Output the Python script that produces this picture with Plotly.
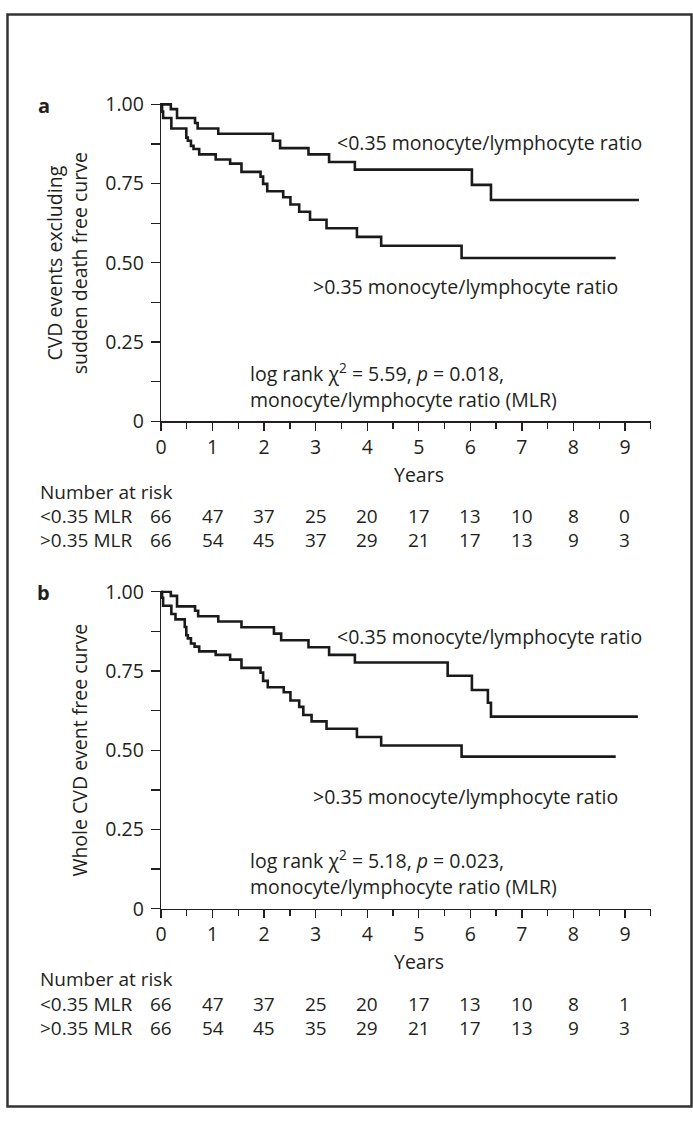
import plotly.graph_objects as go

# ---------------- data ----------------
years = [0, 1, 2, 3, 4, 5, 6, 7, 8, 9]

# panel a: CVD events excluding sudden death
a_low_times = [0.19, 0.31, 0.66, 0.71, 1.11, 2.17, 2.31, 2.86, 3.26, 3.76, 6.03, 6.40]
a_low_surv = [0.985, 0.957, 0.941, 0.924, 0.907, 0.885, 0.862, 0.842, 0.818, 0.794, 0.746, 0.698]
a_low_end = 9.27
a_high_times = [0.02, 0.04, 0.20, 0.49, 0.52, 0.58, 0.63, 0.74, 1.06, 1.34, 1.56, 1.93, 1.98,
                2.06, 2.37, 2.51, 2.68, 2.89, 3.21, 3.80, 4.27, 5.83]
a_high_surv = [0.977, 0.957, 0.924, 0.895, 0.885, 0.869, 0.859, 0.842, 0.826, 0.813, 0.787, 0.772,
               0.749, 0.726, 0.707, 0.684, 0.661, 0.636, 0.609, 0.582, 0.554, 0.515]
a_high_end = 8.82
a_risk_low = [66, 47, 37, 25, 20, 17, 13, 10, 8, 0]
a_risk_high = [66, 54, 45, 37, 29, 21, 17, 13, 9, 3]

# panel b: whole CVD events
b_low_times = [0.19, 0.31, 0.66, 0.72, 1.11, 1.56, 2.19, 2.33, 2.86, 3.26, 3.76, 5.56, 6.03, 6.34, 6.40]
b_low_surv = [0.987, 0.954, 0.940, 0.923, 0.906, 0.888, 0.868, 0.847, 0.825, 0.801, 0.777, 0.735,
              0.690, 0.650, 0.606]
b_low_end = 9.25
b_high_times = [0.02, 0.04, 0.20, 0.28, 0.46, 0.49, 0.52, 0.58, 0.65, 0.74, 1.06, 1.34, 1.56, 1.93,
                1.98, 2.07, 2.38, 2.51, 2.68, 2.76, 2.92, 3.21, 3.80, 4.27, 5.83]
b_high_surv = [0.981, 0.956, 0.930, 0.913, 0.889, 0.863, 0.853, 0.837, 0.827, 0.812, 0.801, 0.786,
               0.760, 0.745, 0.719, 0.699, 0.683, 0.657, 0.637, 0.611, 0.591, 0.568, 0.542, 0.515, 0.48]
b_high_end = 8.82
b_risk_low = [66, 47, 37, 25, 20, 17, 13, 10, 8, 1]
b_risk_high = [66, 54, 45, 35, 29, 21, 17, 13, 9, 3]

y_tickvals = [0, 0.25, 0.5, 0.75, 1.0]
y_ticktext = ["0", "0.25", "0.50", "0.75", "1.00"]

label_low = "<0.35 monocyte/lymphocyte ratio"
label_high = ">0.35 monocyte/lymphocyte ratio"
a_stat = "log rank χ<sup>2</sup> = 5.59, <i>p</i> = 0.018,<br>monocyte/lymphocyte ratio (MLR)"
b_stat = "log rank χ<sup>2</sup> = 5.18, <i>p</i> = 0.023,<br>monocyte/lymphocyte ratio (MLR)"
a_ytitle = "CVD events excluding<br>sudden death free curve"
b_ytitle = "Whole CVD event free curve"

# ---------------- layout helpers ----------------
W, H = 693, 1122
FONT = "Open Sans, Noto Sans, sans-serif"
TXT = "#231f20"
FS = 19.5
FS_TABLE = 19


def px(x):
    return x / W


def py(y):
    return 1 - y / H


X0, XPY = 156.4, 52.0          # pixel of year 0, pixels per year
XMAX = 9.5
UNIT = 324.5                    # pixels per survival unit
YTOP = 1.004
panels = {"a": 418.0, "b": 917.0}   # pixel of survival 0


def km(times, surv, end):
    xs = [0] + list(times) + [end]
    ys = [1.0] + list(surv) + [surv[-1]]
    return xs, ys


fig = go.Figure()
line_style = dict(color="#1a1a1a", width=2.6, shape="hv")

curves = [
    ("x", "y", a_low_times, a_low_surv, a_low_end),
    ("x", "y", a_high_times, a_high_surv, a_high_end),
    ("x2", "y2", b_low_times, b_low_surv, b_low_end),
    ("x2", "y2", b_high_times, b_high_surv, b_high_end),
]
for xa, ya, t, s, e in curves:
    xs, ys = km(t, s, e)
    fig.add_trace(go.Scatter(x=xs, y=ys, mode="lines", line=line_style,
                             xaxis=xa, yaxis=ya, showlegend=False, hoverinfo="skip"))

xdom = [px(X0), px(X0 + XPY * XMAX)]


def xaxis_cfg():
    return dict(domain=xdom, range=[0, XMAX], showgrid=False, zeroline=False,
                showline=True, linecolor=TXT, linewidth=1.3,
                tickmode="array", tickvals=years, ticks="outside", ticklen=8,
                tickwidth=1.3, tickcolor=TXT,
                minor=dict(dtick=0.5, tick0=0, ticks="outside", ticklen=6,
                           tickwidth=1.3, tickcolor=TXT),
                tickfont=dict(family=FONT, size=FS, color=TXT))


def yaxis_cfg(zero_px, anchor):
    top_px = zero_px - UNIT * YTOP
    return dict(domain=[py(zero_px), py(top_px)], range=[0, YTOP], anchor=anchor,
                showgrid=False, zeroline=False, showline=True, linecolor=TXT,
                linewidth=1.3, tickmode="array", tickvals=y_tickvals,
                ticktext=y_ticktext, ticks="outside", ticklen=9, tickwidth=1.3,
                tickcolor=TXT, ticklabelstandoff=3,
                minor=dict(dtick=0.125, tick0=0, ticks="outside", ticklen=9,
                           tickwidth=1.3, tickcolor=TXT),
                tickfont=dict(family=FONT, size=FS, color=TXT))


fig.update_layout(
    width=W, height=H, margin=dict(l=0, r=0, t=0, b=0),
    paper_bgcolor="white", plot_bgcolor="white",
    xaxis=dict(**xaxis_cfg(), anchor="y"),
    yaxis=yaxis_cfg(panels["a"], "x"),
    xaxis2=dict(**xaxis_cfg(), anchor="y2"),
    yaxis2=yaxis_cfg(panels["b"], "x2"),
    showlegend=False,
)

ann = []


def text(x, y, s, xref="paper", yref="paper", xanchor="left", size=FS, bold=False, angle=0):
    ann.append(dict(x=x, y=y, xref=xref, yref=yref, text=("<b>%s</b>" % s) if bold else s,
                    showarrow=False, xanchor=xanchor, yanchor="middle", textangle=angle,
                    align="left" if xanchor == "left" else "center", borderpad=0,
                    font=dict(family=FONT, size=size, color=TXT)))


for key, xr, yr, stat, risk_low, risk_high, low_y, hi_y, ytitle, title_x in [
        ("a", "x", "y", a_stat, a_risk_low, a_risk_high, 0.88, 0.425, a_ytitle, 61),
        ("b", "x2", "y2", b_stat, b_risk_low, b_risk_high, 0.86, 0.355, b_ytitle, 74)]:
    zero = panels[key]
    top = zero - UNIT
    text(px(38), py(top + 1), key, xanchor="center", size=20, bold=True)
    text(3.40, low_y, label_low, xref=xr, yref=yr)
    text(2.92, hi_y, label_high, xref=xr, yref=yr)
    text(1.70, 0.113, stat, xref=xr, yref=yr)
    text(5.0, py(zero + 54), "Years", xref=xr, xanchor="center")
    text(px(33), py(zero + 72), "Number at risk", size=FS_TABLE)
    text(px(33), py(zero + 97), "<0.35 MLR", size=FS_TABLE)
    text(px(33), py(zero + 122), ">0.35 MLR", size=FS_TABLE)
    for yv, a, b in zip(years, risk_low, risk_high):
        text(yv, py(zero + 97), str(a), xref=xr, xanchor="center", size=FS_TABLE)
        text(yv, py(zero + 122), str(b), xref=xr, xanchor="center", size=FS_TABLE)
    mid = zero - UNIT / 2
    text(px(title_x), py(mid), ytitle, xanchor="center", angle=-90)

fig.update_layout(annotations=ann)

fig.add_shape(type="rect", xref="paper", yref="paper", x0=px(1.5), x1=px(691.5),
              y0=py(1119.5), y1=py(1.5), line=dict(color="#333333", width=2.5),
              fillcolor="rgba(0,0,0,0)", layer="above")

fig.write_html("out.html", config={"displayModeBar": False, "staticPlot": True},
               post_script="document.body.style.margin='0';document.body.style.padding='0';")
